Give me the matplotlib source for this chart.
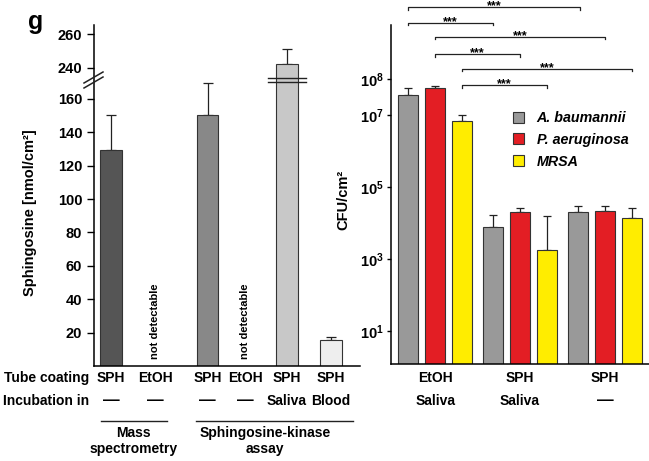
import numpy as np
import matplotlib
matplotlib.use('Agg')
from matplotlib import pyplot as plt
from matplotlib.patches import Patch
from matplotlib.lines import Line2D

plt.rcParams['font.family'] = ['Liberation Sans', 'DejaVu Sans']
plt.rcParams['font.weight'] = 'bold'
plt.rcParams['axes.labelweight'] = 'bold'
plt.rcParams['mathtext.fontset'] = 'custom'
plt.rcParams['mathtext.rm'] = 'Liberation Sans:bold'
plt.rcParams['mathtext.it'] = 'Liberation Sans:italic:bold'
plt.rcParams['mathtext.bf'] = 'Liberation Sans:bold'

# left panel data: sphingosine on tubes
sph_coating = ['SPH', 'EtOH', 'SPH', 'EtOH', 'SPH', 'SPH']
sph_incub = ['—', '—', '—', '—', 'Saliva', 'Blood']
sph_vals = [129.7, 0, 150.3, 0, 242.3, 15.8]
sph_err = [20.9, 0, 19.1, 0, 9.1, 1.4]
sph_detect = [True, False, True, False, True, True]

# right panel data: CFU/cm2
groups_coating = ['EtOH', 'SPH', 'SPH']
groups_incub = ['Saliva', 'Saliva', '—']
species = ['A. baumannii', 'P. aeruginosa', 'MRSA']
cfu = {
    'A. baumannii': [3.6e7, 7.9e3, 2.0e4],
    'P. aeruginosa': [5.4e7, 1.95e4, 2.1e4],
    'MRSA': [6.7e6, 1.8e3, 1.4e4],
}
cfu_err_top = {
    'A. baumannii': [5.6e7, 1.7e4, 2.9e4],
    'P. aeruginosa': [6.3e7, 2.6e4, 2.9e4],
    'MRSA': [9.8e6, 1.55e4, 2.6e4],
}
# significance brackets: (x start, x end, height)
brackets = [(-0.318, 1.706, 10**9.99), (-0.318, 0.682, 10**9.56),
            (0.0, 2.0, 10**9.17), (0.0, 1.0, 10**8.69),
            (0.318, 2.318, 10**8.28), (0.318, 1.318, 10**7.83)]

W, H = 649, 461
fig = plt.figure(figsize=(W / 100, H / 100), dpi=100)

# ---------------- left panel (broken axis) ----------------
B1, B2 = 170.0, 231.3
D = B2 - B1


def fwd(y):
    y = np.asarray(y, dtype=float)
    return np.where(y <= B1, y, np.where(y >= B2, y - D, B1))


def inv(t):
    t = np.asarray(t, dtype=float)
    return np.where(t <= B1, t, t + D)


ax = fig.add_axes([94 / W, 1 - 366 / H, 266 / W, 341 / H])
ax.set_yscale('function', functions=(fwd, inv))
xpos = [0, 1, 2.2, 3.05, 4, 5]
bar_cols = ['#555555', '#ffffff', '#888888', '#ffffff', '#c8c8c8', '#eeeeee']
for x, v, e, c, d in zip(xpos, sph_vals, sph_err, bar_cols, sph_detect):
    if d:
        ax.bar(x, v, 0.48, color=c, edgecolor='#333333', linewidth=0.8, zorder=2)
        ax.errorbar(x, v, yerr=[[0], [e]], fmt='none', ecolor='#222222',
                    elinewidth=0.9, capsize=3.5, capthick=0.9, zorder=1)
    else:
        ax.text(x, 4, 'not detectable', rotation=90, ha='center', va='bottom',
                fontsize=8)
ax.set_xlim(-0.386, 5.66)
ax.set_ylim(0, 265.6)
ax.set_yticks([20, 40, 60, 80, 100, 120, 140, 160, 240, 260])
ax.tick_params(axis='y', labelsize=10.5, length=5, width=1, direction='out')
ax.set_xticks([])
for s in ['top', 'right']:
    ax.spines[s].set_visible(False)
ax.spines['left'].set_linewidth(1.1)
ax.spines['bottom'].set_linewidth(1.1)
ax.set_ylabel('Sphingosine [nmol/cm²]', fontsize=10.5)
ax.yaxis.set_label_coords(-0.214, 0.45)

# double line on the broken bar
for yy in [231.4, 234.1]:
    ax.plot([4 - 0.43, 4 + 0.43], [yy, yy], color='#222222', lw=1, zorder=3)

# break marks on the axis
for dy in [0, 5]:
    fig.add_artist(Line2D([84 / W, 103 / W], [1 - (88 - dy) / H, 1 - (77 - dy) / H],
                          color='#222222', lw=1.1))

trl = ax.get_xaxis_transform()
for x, c, i in zip(xpos, sph_coating, sph_incub):
    ax.text(x, -0.035, c, transform=trl, ha='center', va='center', fontsize=10)
    ax.text(x, -0.1026, i, transform=trl, ha='center', va='center',
            fontsize=12 if i == '—' else 10)
ax.text(-0.019, -0.035, 'Tube coating', transform=ax.transAxes, ha='right',
        va='center', fontsize=10)
ax.text(-0.019, -0.1026, 'Incubation in', transform=ax.transAxes, ha='right',
        va='center', fontsize=10)
ax.plot([-0.23, 1.27], [-0.161, -0.161], transform=trl, color='#222222',
        lw=1, clip_on=False)
ax.plot([1.93, 5.5], [-0.161, -0.161], transform=trl, color='#222222',
        lw=1, clip_on=False)
ax.text(0.52, -0.22, 'Mass\nspectrometry', transform=trl, ha='center',
        va='center', fontsize=10, linespacing=1.1)
ax.text(3.5, -0.22, 'Sphingosine-kinase\nassay', transform=trl, ha='center',
        va='center', fontsize=10, linespacing=1.1)

fig.text(28 / W, 1 - 22 / H, 'g', fontsize=18, ha='left', va='center')

# ---------------- right panel (log CFU) ----------------
ax2 = fig.add_axes([391 / W, 1 - 364 / H, 258 / W, 364 / H])
ax2.set_yscale('log')
colors = ['#999999', '#e31e24', '#ffed00']
offsets = [-0.318, 0, 0.318]
gx = np.arange(len(groups_coating))
for sp, col, off in zip(species, colors, offsets):
    vals = np.array(cfu[sp])
    tops = np.array(cfu_err_top[sp])
    ax2.bar(gx + off, vals, 0.235, color=col, edgecolor='#333333',
            linewidth=0.8, zorder=2)
    ax2.errorbar(gx + off, vals, yerr=[np.zeros(3), tops - vals], fmt='none',
                 ecolor='#222222', elinewidth=0.9, capsize=3, capthick=0.9,
                 zorder=1)
ax2.set_xlim(-0.52, 2.52)
ax2.set_ylim(10**0.08, 10**10.19)
ax2.set_yticks([1e1, 1e3, 1e5, 1e7, 1e8])
ax2.set_yticklabels(['$10^{1}$', '$10^{3}$', '$10^{5}$', '$10^{7}$', '$10^{8}$'])
ax2.yaxis.set_minor_locator(matplotlib.ticker.NullLocator())
ax2.tick_params(axis='y', labelsize=10.5, length=3, width=1, pad=2)
ax2.set_xticks([])
for s in ['top', 'right']:
    ax2.spines[s].set_visible(False)
ax2.spines['left'].set_bounds(10**0.08, 10**9.5)
ax2.spines['left'].set_linewidth(1.1)
ax2.spines['bottom'].set_linewidth(1.1)
ax2.set_ylabel('CFU/cm²', fontsize=10.5)
ax2.yaxis.set_label_coords(-0.159, 0.45)

for x0, x1, h in brackets:
    ax2.plot([x0, x0, x1, x1], [h * 0.85, h, h, h * 0.85], color='#222222',
             lw=0.9, clip_on=False)
    ax2.text((x0 + x1) / 2, h * 0.88, '***', ha='center', va='baseline',
             fontsize=9, clip_on=False)

handles = [Patch(facecolor=c, edgecolor='#333333', linewidth=0.8) for c in colors]
ax2.legend(handles, species, loc='upper left', bbox_to_anchor=(0.473, 0.695),
           frameon=False, borderaxespad=0, borderpad=0, handlelength=0.75,
           handleheight=0.8, handletextpad=0.9, labelspacing=0.55,
           prop={'size': 10.3, 'style': 'italic', 'weight': 'bold'})

trr = ax2.get_xaxis_transform()
for x, c, i in zip(gx, groups_coating, groups_incub):
    ax2.text(x, -0.0385, c, transform=trr, ha='center', va='center', fontsize=10)
    ax2.text(x, -0.1016, i, transform=trr, ha='center', va='center',
             fontsize=12 if i == '—' else 10)

fig.savefig('out.png', dpi=100)
